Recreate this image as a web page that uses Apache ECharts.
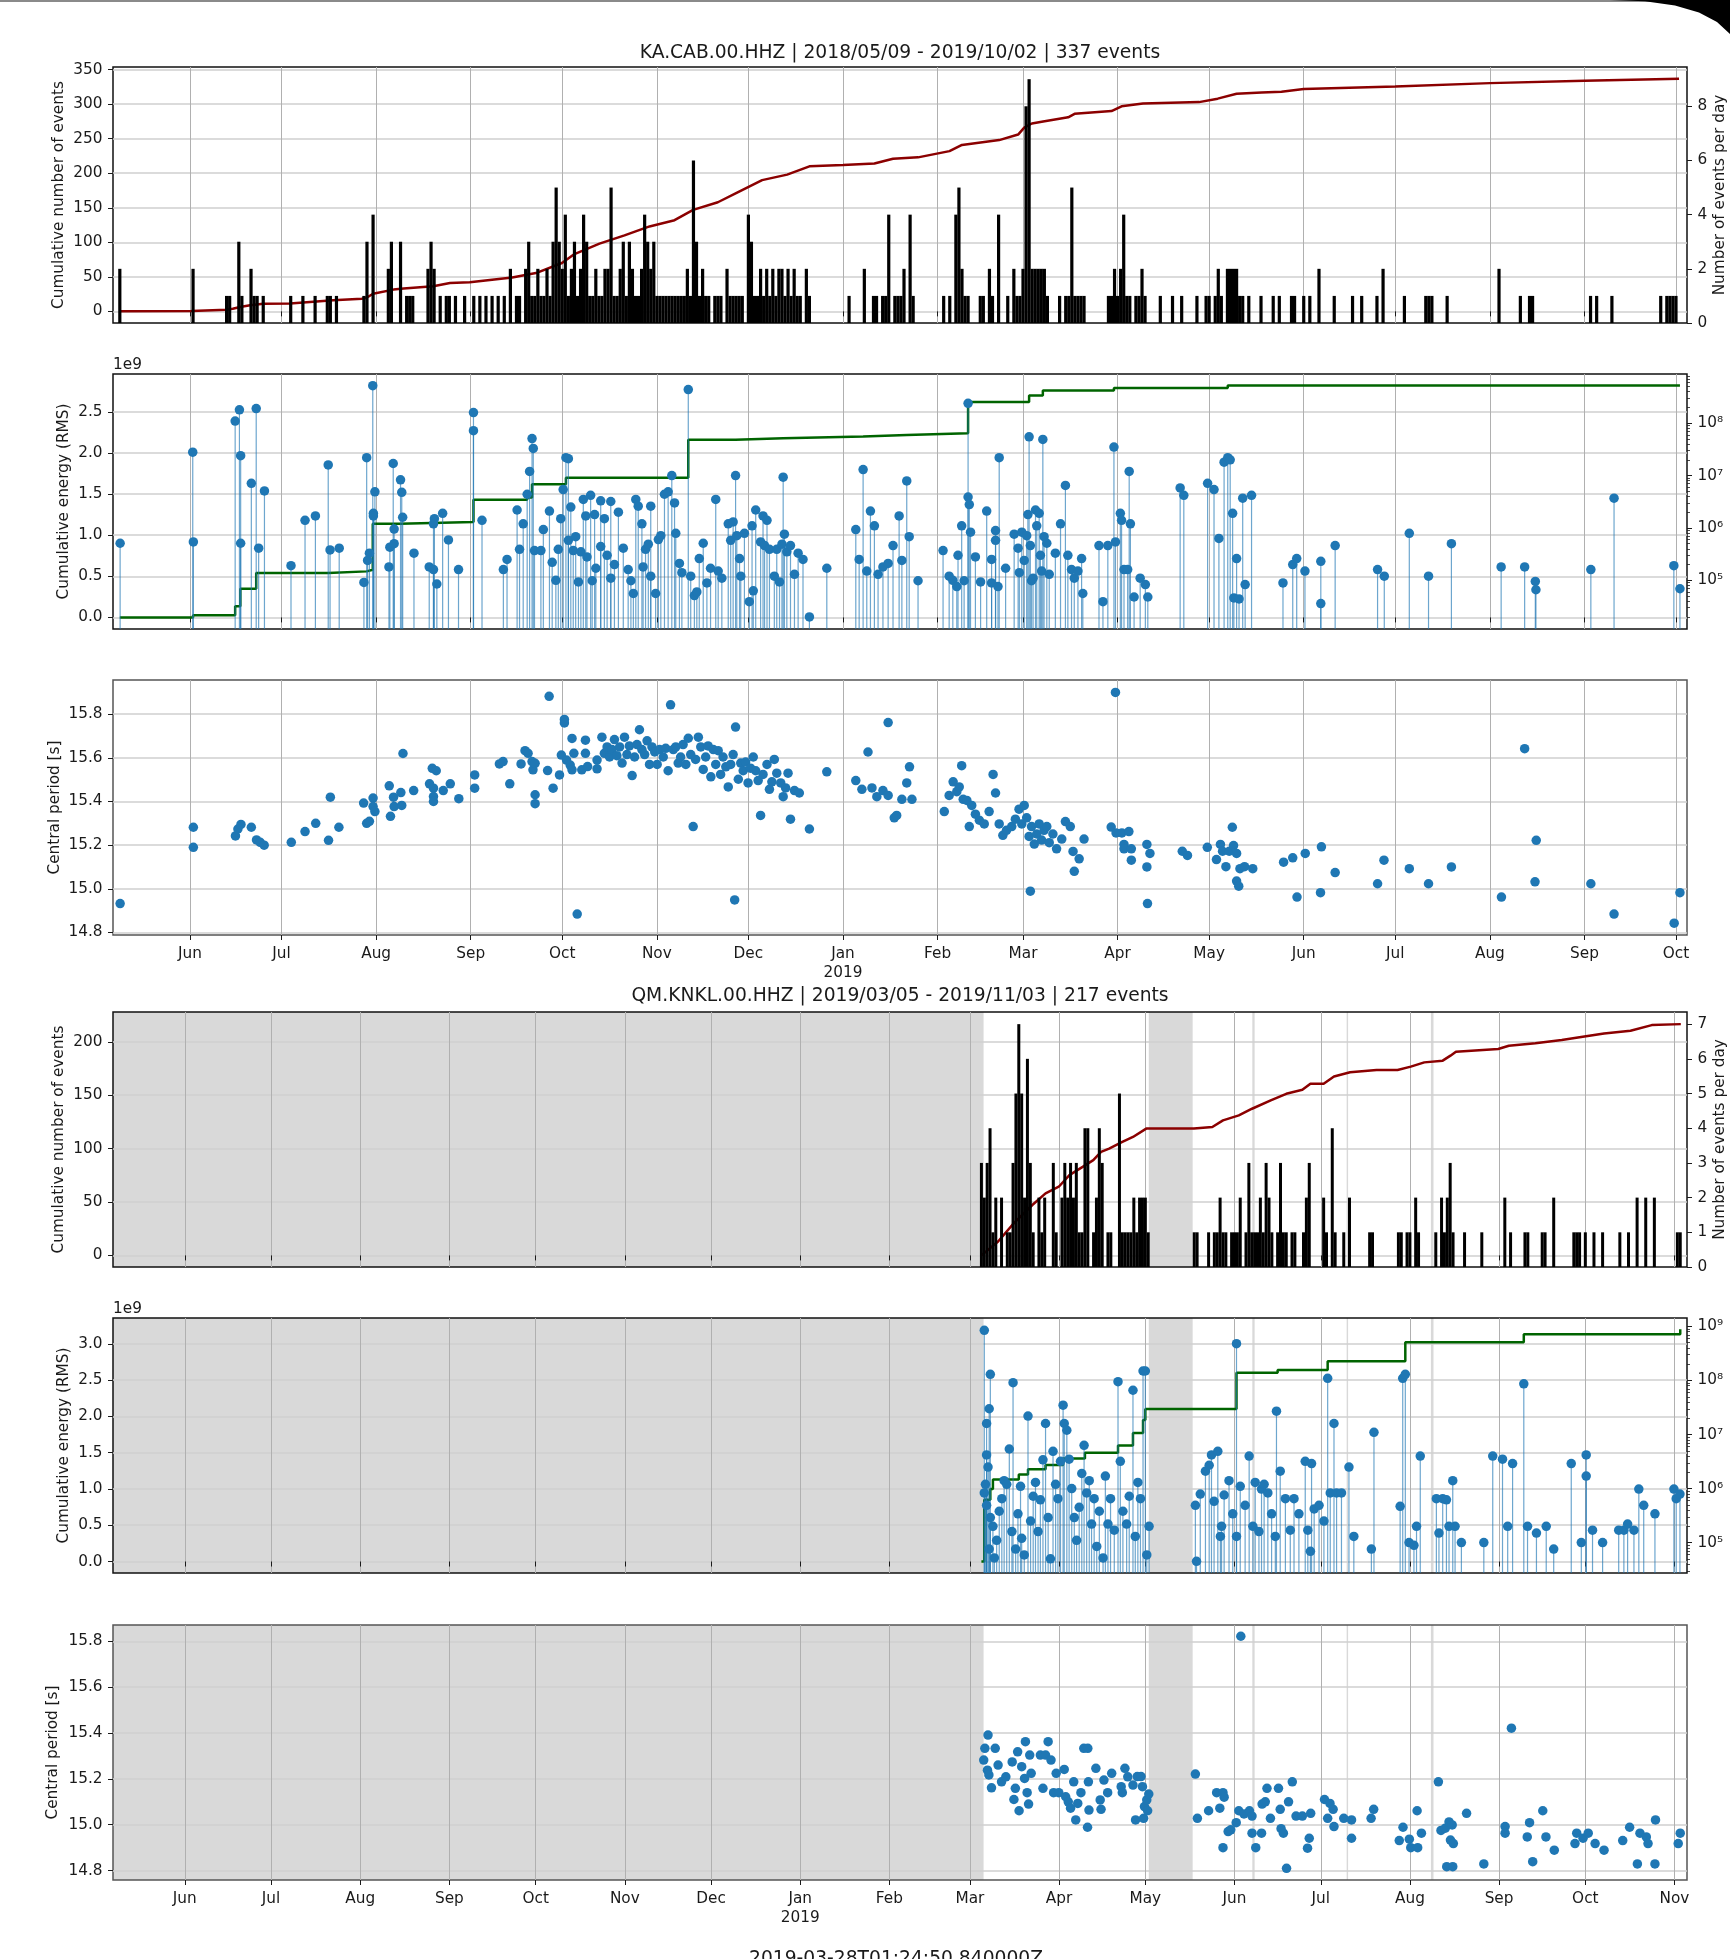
<!DOCTYPE html>
<html><head><meta charset="utf-8">
<script src="https://cdn.jsdelivr.net/npm/echarts@6/dist/echarts.min.js"></script>
<style>html,body{margin:0;padding:0;background:#fff}#c{width:1730px;height:1959px}</style>
</head><body><div id="c"></div>
<script>
// ---------------- DATA (x = days since 2018-06-01, UTC) ----------------
const DAY0 = '2018-06-01';
const TITLE_CAB = 'KA.CAB.00.HHZ | 2018/05/09 - 2019/10/02 | 337 events';
const TITLE_KNKL = 'QM.KNKL.00.HHZ | 2019/03/05 - 2019/11/03 | 217 events';
const FOOTER = '2019-03-28T01:24:50.840000Z';

const CAB_MONTHS = ['2018-06-01','2018-07-01','2018-08-01','2018-09-01','2018-10-01','2018-11-01','2018-12-01','2019-01-01','2019-02-01','2019-03-01','2019-04-01','2019-05-01','2019-06-01','2019-07-01','2019-08-01','2019-09-01','2019-10-01'];
const KNKL_MONTHS = CAB_MONTHS.concat(['2019-11-01']);
const COUNT_TICKS_CAB = [0,50,100,150,200,250,300,350];
const RATE_TICKS_CAB = [0,2,4,6,8];
const COUNT_TICKS_KNKL = [0,50,100,150,200];
const RATE_TICKS_KNKL = [0,1,2,3,4,5,6,7];
const ENERGY_TICKS_CAB = [0,0.5e9,1.0e9,1.5e9,2.0e9,2.5e9];
const ENERGY_TICKS_KNKL = [0,0.5e9,1.0e9,1.5e9,2.0e9,2.5e9,3.0e9];
const LOG_TICKS_CAB = [1e5,1e6,1e7,1e8];
const LOG_TICKS_KNKL = [1e5,1e6,1e7,1e8,1e9];
const LOG_MINOR = [2e4,3e4,4e4,5e4,6e4,7e4,8e4,9e4,2e5,3e5,4e5,5e5,6e5,7e5,8e5,9e5,2e6,3e6,4e6,5e6,6e6,7e6,8e6,9e6,2e7,3e7,4e7,5e7,6e7,7e7,8e7,9e7,2e8,3e8,4e8,5e8,6e8,7e8,8e8,9e8];
const PERIOD_TICKS = [14.8,15.0,15.2,15.4,15.6,15.8];

// KA.CAB: events per day [day, count]
const CAB_COUNTS = [[-23,2],[1,2],[12,1],[13,1],[16,3],[17,1],[20,2],[21,1],[22,1],[24,1],
[33,1],[37,1],[41,1],[45,1],[46,1],[48,1],[57,1],[58,3],[60,4],
[65,2],[66,3],[69,3],[71,1],[72,1],[73,1],[78,2],[79,3],[80,2],[82,1],[84,1],[85,1],[87,1],
[90,1],[93,1],[95,1],[97,1],[99,1],[101,1],[103,1],[105,2],[107,1],[108,1],[110,2],[111,3],[112,1],[113,1],[114,2],[115,1],[116,1],[117,2],[118,1],[119,3],[120,5],[121,3],
[122,2],[123,4],[124,1],[125,2],[126,3],[127,1],[128,2],[129,4],[130,3],[131,1],[132,1],[133,2],[134,1],[135,1],[136,2],[137,2],[138,5],[139,1],[140,1],[141,2],[142,3],[143,1],[144,3],[145,2],[146,1],[147,1],[148,2],[149,4],[150,3],[151,2],[152,3],
[153,1],[154,1],[155,1],[156,1],[157,1],[158,1],[159,1],[160,1],[161,1],[162,1],[163,2],[164,1],[165,6],[166,3],[167,1],[168,2],[169,1],[170,1],[172,1],[173,1],[174,1],[176,2],[177,1],[178,1],[179,1],[180,1],[181,1],
[183,4],[184,3],[185,1],[186,1],[187,2],[188,1],[189,2],[190,1],[191,2],[192,1],[193,2],[194,2],[195,1],[196,2],[197,1],[198,2],[199,1],[200,1],[202,2],[203,1],
[216,1],[221,2],[224,1],[225,1],[227,1],[228,1],[229,4],[231,1],[232,1],[233,1],[234,2],[236,4],[237,1],
[247,1],[249,1],[251,4],[252,5],[253,2],[254,1],[255,1],[259,1],[260,1],[262,2],[263,1],[265,4],[268,1],[270,2],[271,1],[272,1],
[273,2],[274,8],[275,9],[276,2],[277,2],[278,2],[279,2],[280,2],[281,1],[285,1],[287,1],[288,1],[289,5],[290,1],[291,1],[292,1],[293,1],[301,1],[302,1],[303,2],
[304,1],[305,2],[306,4],[307,1],[308,1],[310,1],[311,1],[312,2],[313,1],[318,1],[322,1],[325,1],[330,1],[333,1],
[334,1],[336,1],[337,2],[338,1],[340,2],[341,2],[342,2],[343,2],[344,1],[345,1],[347,1],[351,1],[355,1],
[357,1],[361,1],[362,1],[365,1],[367,1],[370,2],[375,1],[381,1],[384,1],[389,1],[391,2],[398,1],[405,1],[406,1],[407,1],[412,1],[429,2],[436,1],[439,1],[440,1],[459,1],[461,1],[466,1],[482,1],[484,1],[485,1],[486,1],[487,1]];

// KA.CAB: cumulative number of events [day, count]
const CAB_CUM = [[-23,0],[0.5,0.5],[1,2],[12,2.5],[14,3.9],[16.4,6.3],[19.7,8.7],[24,11.1],[32.8,11.5],[46.9,16],[56.3,18.4],[58,20],[60,25.6],[66.7,31.5],[70,33],[79.7,36.3],[85.2,41],[91.7,42],[105.6,49],[113.8,56],[121.9,70],[126,83],[134.2,98],[142.4,110],[150.6,123],[158.8,132],[164.9,147],[173,158],[179.3,172],[187.5,190],[195.7,198],[203,210],[214,212],[224.3,214],[230.4,221],[238.6,223],[248.9,232],[253,241],[265.2,248],[271.4,256],[273.4,266],[275.9,272],[279.6,275],[287.8,281],[289.9,286],[302,290],[305.3,297],[312.3,301],[330.7,303],[336.8,308],[343,315],[351.2,317],[357.7,318],[365,322],[395,325.6],[426,330.5],[457,334],[488,336.7]];

// KA.CAB: energy of each event [day, energy]
const CAB_ENERGY = [[-22.9,5.1e5],[0.9,2.8e7],[1.1,5.4e5],[14.8,1.1e8],[16.2,1.8e8],[16.6,2.4e7],[16.6,5.1e5],[20.1,7.1e6],[21.7,1.9e8],[22.5,4.1e5],[24.4,5.1e6],[33.1,1.9e5],[37.7,1.4e6],[41.1,1.7e6],[45.3,1.6e7],[45.9,3.8e5],[48.9,4.1e5],[57,9.1e4],[57.9,2.2e7],[58.2,2.4e5],[58.8,3.3e5],[59.9,5.2e8],[60.1,1.9e6],[60.1,1.7e6],[60.6,4.9e6],[65.2,1.8e5],[65.5,4.3e5],[66.9,5.0e5],[66.6,1.7e7],[66.9,9.5e5],[69,8.3e6],[69.4,4.8e6],[69.7,1.6e6],[73.4,3.3e5],[78.4,1.8e5],[79.8,1.6e5],[80.1,1.5e6],[79.8,1.2e6],[80.9,8.5e4],[82.8,1.9e6],[84.7,5.9e5],[88.0,1.6e5],[92.9,7.2e7],[92.9,1.6e8],[95.7,1.4e6],[102.7,1.6e5],[103.9,2.5e5],[107.2,2.2e6],[108.0,3.9e5],[109.2,1.2e6],[110.5,4.4e6],[111.3,1.2e7],[112.1,5.1e7],[112.5,3.3e7],[112.9,3.7e5],[115.0,3.7e5],[115.8,9.3e5],[117.8,2.1e6],[118.7,2.2e5],[119.9,1.0e5],[120.7,3.9e5],[121.5,1.5e6],[122.3,5.4e6],[123.2,2.2e7],[124.0,2.1e7],[124.0,5.8e5],[124.8,2.5e6],[125.6,3.7e5],[126.4,6.8e5],[127.3,9.3e4],[128.1,3.5e5],[128.9,3.5e6],[129.7,1.7e6],[130.1,2.8e5],[131.3,4.2e6],[131.8,9.8e4],[132.6,1.8e6],[133.0,1.7e5],[134.6,3.3e6],[134.6,4.4e5],[135.8,1.5e6],[136.7,3.0e5],[137.9,3.2e6],[137.9,1.1e5],[139.1,2.0e5],[140.4,2.0e6],[142.0,4.1e5],[143.6,1.6e5],[144.5,9.8e4],[145.3,5.6e4],[146.1,3.5e6],[146.9,2.6e6],[148.1,1.2e6],[148.5,1.8e5],[149.3,3.9e5],[150.2,4.9e5],[151.0,2.6e6],[151.0,1.2e5],[152.6,5.6e4],[153.5,6.0e5],[154.3,7.1e5],[155.5,4.4e6],[156.7,4.9e6],[157.9,1.0e7],[158.8,3.0e6],[159.2,7.9e5],[160.4,2.1e5],[161.2,1.4e5],[163.3,4.4e8],[164.1,1.2e5],[165.3,5.1e4],[166.1,6.0e4],[166.9,2.6e5],[168.2,5.1e5],[169.4,8.9e4],[170.6,1.7e5],[172.3,3.5e6],[173.1,1.5e5],[174.3,1.1e5],[176.4,1.2e6],[177.2,5.8e5],[178.0,1.3e6],[178.8,1.0e7],[179.2,7.1e5],[180.1,2.6e5],[180.5,1.2e5],[181.7,7.9e5],[183.3,3.9e4],[184.2,1.1e6],[184.6,6.3e4],[185.4,2.2e6],[187.0,5.4e5],[187.8,1.7e6],[188.3,4.6e5],[189.1,1.4e6],[189.9,3.9e5],[191.5,1.2e5],[192.3,3.9e5],[193.2,9.3e4],[194.0,4.9e5],[194.4,9.3e6],[194.8,7.6e5],[195.6,3.5e5],[196.8,4.6e5],[198.1,1.3e5],[199.3,3.3e5],[200.9,2.5e5],[203.0,2.0e4],[208.7,1.7e5],[218.2,9.3e5],[219.3,2.5e5],[220.6,1.3e7],[221.8,1.5e5],[223.0,2.1e6],[224.3,1.1e6],[225.5,1.3e5],[227.1,1.8e5],[228.8,2.1e5],[230.4,4.6e5],[232.4,1.7e6],[233.3,2.4e5],[234.9,7.9e6],[235.7,6.8e5],[238.6,9.8e4],[246.8,3.7e5],[248.8,1.2e5],[250.0,1.0e5],[251.3,7.6e4],[251.7,3.0e5],[252.9,1.1e6],[253.7,9.8e4],[255.0,3.9e6],[255.4,2.8e6],[255.0,2.4e8],[255.8,8.3e5],[257.4,2.8e5],[259.1,9.3e4],[261.1,2.1e6],[262.7,2.5e5],[265.2,2.2e7],[262.7,8.9e4],[264.0,8.9e5],[264.0,5.8e5],[264.8,7.6e4],[267.3,1.7e5],[270.1,7.6e5],[271.4,4.1e5],[271.8,1.4e5],[272.6,8.3e5],[273.4,2.4e5],[274.2,7.1e5],[274.6,1.8e6],[275.0,5.5e7],[275.4,4.6e5],[275.8,9.8e4],[276.3,1.1e5],[277.1,2.2e6],[277.5,1.1e6],[278.3,1.9e6],[278.7,3.0e5],[279.5,4.9e7],[279.1,1.5e5],[279.9,6.8e5],[280.8,5.1e5],[281.6,1.3e5],[283.6,3.3e5],[285.3,1.2e6],[286.9,6.5e6],[287.7,3.0e5],[288.9,1.6e5],[289.8,1.1e5],[291.0,1.5e5],[292.2,2.6e5],[292.6,5.6e4],[297.9,4.6e5],[299.2,3.9e4],[300.8,4.6e5],[302.8,3.5e7],[303.3,5.4e5],[304.9,1.9e6],[305.3,1.4e6],[306.1,1.6e5],[307.3,1.6e5],[307.8,1.2e7],[308.2,1.2e6],[309.4,4.8e4],[311.4,1.1e5],[313.1,8.3e4],[313.9,4.8e4],[324.5,5.8e6],[325.7,4.2e6],[333.5,7.1e6],[335.6,5.4e6],[337.2,6.3e5],[338.9,1.8e7],[340.1,2.2e7],[340.9,2.0e7],[341.7,1.9e6],[342.1,4.6e4],[343.0,2.6e5],[343.8,4.4e4],[345.0,3.7e6],[345.8,8.3e4],[347.9,4.2e6],[358.2,8.9e4],[361.4,2.0e5],[362.7,2.6e5],[365.4,1.5e5],[370.6,2.3e5],[370.6,3.6e4],[375.3,4.6e5],[389.2,1.6e5],[391.4,1.2e5],[399.6,7.9e5],[405.9,1.2e5],[413.4,5.0e5],[429.7,1.8e5],[437.4,1.8e5],[440.9,9.5e4],[441.1,6.6e4],[459.1,1.6e5],[466.7,3.7e6],[486.3,1.9e5],[488.3,6.9e4]];

// KA.CAB: cumulative energy [day, energy]
const CAB_CUM_ENERGY = [[-23,0],[1,2.5e7],[14.8,1.37e8],[16.5,3.5e8],[21.7,5.4e8],[45.3,5.6e8],[57.9,5.8e8],[59.9,1.14e9],[68.8,1.16e9],[92.9,1.43e9],[110.5,1.46e9],[112.1,1.62e9],[123.2,1.70e9],[163.3,2.16e9],[178.8,2.18e9],[194.4,2.2e9],[220.6,2.22e9],[234.9,2.24e9],[255.0,2.62e9],[275.0,2.70e9],[279.5,2.76e9],[302.8,2.79e9],[340.1,2.82e9],[488.3,2.826e9]];

// KA.CAB: central period [day, s]
const CAB_PERIOD = [[-22.9,14.932],[1.1,15.282],[1.1,15.19],[14.9,15.242],[15.7,15.274],[16.7,15.295],[20.1,15.282],[21.8,15.224],[23.0,15.213],[24.3,15.20],[33.2,15.213],[37.7,15.262],[41.2,15.30],[45.4,15.222],[46.0,15.42],[48.8,15.282],[56.9,15.393],[57.9,15.30],[58.8,15.309],[60.0,15.416],[60.0,15.377],[60.6,15.354],[65.3,15.472],[65.7,15.332],[66.7,15.42],[66.9,15.377],[69.1,15.441],[69.4,15.382],[69.8,15.62],[73.3,15.45],[78.5,15.481],[79.4,15.552],[80.7,15.541],[79.8,15.461],[79.8,15.423],[79.8,15.40],[83.0,15.45],[85.3,15.481],[88.1,15.413],[93.3,15.522],[93.3,15.461],[101.4,15.572],[102.6,15.583],[104.8,15.481],[108.5,15.572],[109.8,15.633],[110.8,15.621],[112.1,15.583],[112.4,15.545],[113.1,15.575],[113.1,15.431],[113.1,15.39],[117.2,15.542],[117.7,15.882],[119.0,15.461],[121.1,15.522],[121.7,15.613],[122.7,15.776],[122.7,15.76],[123.4,15.59],[124.6,15.567],[125.2,15.689],[125.2,15.545],[125.8,15.621],[126.9,14.884],[128.4,15.545],[129.6,15.681],[129.6,15.621],[130.3,15.56],[133.4,15.59],[133.4,15.55],
[135.0,15.695],[135.8,15.621],[136.7,15.650],[137.5,15.604],[138.3,15.638],[139.1,15.684],[139.9,15.610],[140.8,15.650],[141.6,15.576],[142.4,15.695],[143.2,15.615],[144.0,15.655],[144.9,15.519],[145.7,15.604],[146.5,15.661],[147.3,15.729],[148.1,15.638],[149.0,15.615],[149.8,15.678],[150.6,15.570],[151.4,15.650],[152.3,15.627],[153.1,15.570],[153.9,15.638],[155.1,15.604],[155.9,15.644],[156.7,15.541],[157.5,15.843],[158.4,15.638],[159.2,15.650],[160.0,15.576],[160.8,15.604],[161.6,15.661],[162.5,15.570],[163.3,15.690],[164.1,15.615],[164.9,15.285],[165.7,15.593],[166.6,15.695],[167.4,15.650],[168.2,15.547],[169.0,15.604],[169.8,15.655],[170.7,15.513],[171.5,15.638],[172.3,15.570],[173.1,15.633],[173.9,15.524],[174.7,15.604],[175.6,15.559],[176.4,15.467],[177.2,15.570],[178.0,15.615],[178.5,14.949],[178.8,15.741],[179.7,15.502],[180.5,15.576],[181.3,15.541],[182.1,15.581],[182.9,15.485],[183.7,15.553],[184.6,15.604],[185.4,15.541],[186.2,15.496],[187.0,15.336],[187.8,15.524],[189.1,15.570],[189.9,15.456],[190.7,15.490],[191.5,15.593],[192.3,15.530],[193.6,15.485],[194.4,15.422],[195.2,15.462],[196.0,15.530],[196.8,15.319],[198.1,15.450],[199.7,15.439],[203.0,15.274],[208.7,15.536],[218.2,15.496],[220.2,15.456],[222.2,15.627],[223.5,15.462],[225.1,15.422],[227.1,15.450],[228.8,15.428],[228.8,15.762],[230.8,15.325],[231.6,15.336],[233.3,15.410],[234.9,15.485],[235.8,15.559],[236.6,15.410],[247.2,15.354],[248.8,15.428],[250.1,15.490],[251.3,15.445],[252.1,15.467],[252.9,15.564],[253.4,15.410],[254.6,15.405],[255.4,15.285],[256.2,15.382],[257.4,15.342],[258.7,15.314],[260.3,15.297],[261.9,15.354],[263.2,15.524],[264.0,15.439],[265.2,15.297],[266.4,15.245],[267.6,15.268],[269.3,15.285],[270.5,15.319],[271.7,15.365],[272.6,15.297],[273.4,15.382],[274.2,15.325],[275.0,15.240],[275.4,14.989],[275.8,15.285],[276.7,15.205],[277.5,15.251],[278.3,15.297],[279.1,15.223],[279.9,15.268],[280.8,15.285],[281.6,15.211],[282.8,15.251],[284.0,15.183],[285.7,15.228],[286.9,15.308],[288.5,15.285],[289.4,15.171],[289.8,15.080],[291.4,15.137],[293.0,15.228],
[303.3,15.9],[301.9,15.283],[303.5,15.256],[305.4,15.256],[307.7,15.262],[306.1,15.203],[306.1,15.183],[308.5,15.183],[308.5,15.131],[313.6,15.203],[314.6,15.162],[313.6,15.10],[313.8,14.932],[325.2,15.172],[326.9,15.153],[333.4,15.19],[336.4,15.134],[337.7,15.203],[338.4,15.172],[339.5,15.101],[340.6,15.172],[341.6,15.282],[342.0,15.198],[343.0,15.162],[343.0,15.035],[343.7,15.012],[344.1,15.092],[345.6,15.101],[348.3,15.092],[358.4,15.122],[361.4,15.142],[362.8,14.962],[365.5,15.162],[370.5,14.982],[370.8,15.192],[375.3,15.074],[389.2,15.023],[391.3,15.131],[399.6,15.092],[405.9,15.023],[413.4,15.10],[429.8,14.962],[437.4,15.642],[441.2,15.222],[440.8,15.032],[459.1,15.023],[466.7,14.884],[486.4,14.842],[488.3,14.982]];

// QM.KNKL: events per day [day, count]
const KNKL_COUNTS = [[277,3],[278,2],[279,3],[280,4],[281,1],[282,2],[284,2],[286,1],[287,1],[288,3],[289,5],[290,7],[291,5],[292,2],[293,6],[294,3],[295,1],[297,2],[298,1],[299,2],[302,3],[303,1],[305,2],[306,3],[307,2],[308,3],[309,2],[310,3],[311,1],[312,1],[313,4],[314,4],[316,1],[317,2],[318,4],[319,3],[321,1],[322,1],[325,5],[326,1],[327,1],[328,1],[329,1],[330,2],[331,1],[332,2],[333,2],[334,2],[335,1],
[351,1],[352,1],[356,1],[358,1],[359,1],[360,2],[361,1],[362,1],[364,1],[365,1],[366,1],[367,2],[369,1],[370,3],[371,1],[372,1],[373,1],[374,2],[375,1],[376,3],[377,2],[378,1],[380,1],[381,3],[382,1],[383,1],[385,1],[386,1],[389,1],[390,2],[391,3],[396,2],[397,1],[399,4],[400,1],[403,1],[405,2],[412,1],[413,1],[422,1],[423,1],[425,1],[426,1],[428,2],[429,1],[435,1],[437,2],[438,1],[439,2],[440,3],[441,1],[445,1],[451,1],[459,2],[461,1],[466,1],[467,1],[472,1],[473,1],[476,2],[483,1],[484,1],[485,1],[487,1],[490,1],[493,1],[499,1],[502,1],[505,2],[508,2],[511,2],[519,1],[520,1]];

// QM.KNKL: cumulative number of events [day, count]
const KNKL_CUM = [[277,0],[282.8,13],[288.3,30.2],[294.7,47.2],[299.3,58.1],[303.9,64.3],[307.6,75.2],[312.2,82.9],[315.9,89.2],[318.6,96.9],[321.4,100],[326,106.2],[329.7,110.9],[334.3,118.7],[350.9,118.7],[357.3,120.2],[361,126.4],[366.5,131.1],[371.1,137.3],[377.6,145.1],[383,151.3],[388.6,155],[391.4,160.6],[396,160.6],[399.6,167.4],[405.2,171.4],[414.4,173.6],[421.7,173.6],[426.3,176.7],[431,180.7],[437.4,182.3],[440.1,187],[442,190.7],[456.7,193.2],[460.4,196.3],[469.6,198.5],[478.8,201.6],[486.1,204.7],[493.5,207.8],[502.7,210.3],[510.1,215.6],[520.2,216.5]];

// QM.KNKL: energy of each event [day, energy]
const KNKL_ENERGY = [[278.0,8.5e8],[279.7,3.0e7],[280.1,1.3e8],[278.8,1.6e7],[278.8,4.2e6],[279.3,2.5e6],[278.4,1.2e6],[278.0,8.3e5],[278.8,4.9e5],[280.1,2.9e5],[281.0,2.0e5],[279.7,7.6e4],[281.5,5.2e4],[282.3,1.1e5],[283.2,3.8e5],[284.1,6.5e5],[284.9,1.4e6],[285.8,1.2e6],[286.7,5.4e6],[287.6,1.6e5],[288.0,9.1e7],[288.9,7.6e4],[289.7,3.4e5],[290.6,1.1e6],[291.0,1.2e5],[291.9,5.9e4],[293.2,2.2e7],[294.1,2.5e5],[295.0,7.2e5],[295.8,1.3e6],[296.7,1.6e5],[297.5,6.2e5],[298.4,3.4e6],[299.3,1.6e7],[300.2,2.9e5],[301.0,5.0e4],[301.9,4.9e6],[302.8,1.2e6],[303.6,6.5e5],[304.5,3.2e6],[305.4,3.5e7],[305.8,1.6e7],[306.7,1.2e7],[307.5,3.5e6],[308.4,1.0e6],[309.3,2.9e5],[310.1,1.1e5],[311.0,4.5e5],[311.9,1.9e6],[312.7,6.3e6],[313.6,8.3e5],[314.5,1.4e6],[315.3,2.2e5],[316.2,6.5e5],[317.1,8.5e4],[318.0,3.8e5],[319.3,5.2e4],[320.1,1.7e6],[321.0,2.2e5],[321.9,6.5e5],[323.2,1.7e5],[324.5,9.5e7],[325.3,3.2e6],[326.2,3.8e5],[327.5,2.2e5],[328.4,7.2e5],[329.7,6.6e7],[330.5,1.3e5],[331.4,1.3e6],[332.3,6.5e5],[333.2,1.5e8],[334.0,1.5e8],[334.5,5.9e4],[335.3,2.0e5],
[351.4,4.9e5],[351.8,4.5e4],[353.1,7.9e5],[354.9,2.1e6],[356.2,2.7e6],[357.0,4.2e6],[357.9,5.8e5],[359.2,4.9e6],[360.1,1.3e5],[360.5,2.0e5],[361.4,7.6e5],[363.1,1.4e6],[364.4,3.4e5],[365.7,4.8e8],[365.7,1.3e5],[367.0,1.1e6],[368.7,4.9e5],[370.1,4.0e6],[371.4,2.0e5],[372.2,1.3e6],[373.5,1.6e5],[374.4,9.8e5],[375.3,1.2e6],[376.6,8.3e5],[377.9,3.4e5],[379.2,1.3e5],[379.6,2.7e7],[380.9,2.1e6],[382.7,6.5e5],[384.4,1.7e5],[385.7,6.5e5],[387.4,3.4e5],[389.6,3.2e6],[390.5,1.7e5],[391.4,6.9e4],[391.8,2.9e6],[392.7,4.2e5],[394.4,4.9e5],[396.1,2.5e5],[397.4,1.1e8],[398.3,8.3e5],[399.6,1.6e7],[400.5,8.3e5],[402.2,8.3e5],[404.8,2.5e6],[406.5,1.3e5],[412.6,7.6e4],[413.5,1.1e7],[422.6,4.7e5],[423.5,1.1e8],[424.4,1.3e8],[425.7,1.0e5],[427.4,8.9e4],[428.3,2.0e5],[429.6,4.0e6],[435.2,6.5e5],[436.1,1.5e5],[437.4,6.5e5],[438.7,6.2e5],[439.6,2.0e5],[440.9,1.4e6],[441.7,2.0e5],[443.9,1.0e5],[451.7,1.0e5],[454.8,4.0e6],[458.2,3.5e6],[460.0,2.0e5],[461.7,2.9e6],[465.6,8.7e7],[466.9,2.0e5],[470.0,1.5e5],[473.4,2.0e5],[476.0,7.6e4],[482.1,2.9e6],[485.6,1.0e5],[487.3,1.7e6],[487.3,4.2e6],[489.5,1.7e5],[493.0,1.0e5],[498.6,1.7e5],[500.4,1.7e5],[501.7,2.2e5],[503.9,1.7e5],[505.6,9.8e5],[507.3,4.9e5],[511.2,3.4e5],[517.8,9.8e5],[518.6,6.5e5],[519.9,7.9e5]];

// QM.KNKL: cumulative energy [day, energy]
const KNKL_CUM_ENERGY = [[277,0],[278,0.85e9],[280.1,1.0e9],[281,1.13e9],[290,1.2e9],[293.2,1.27e9],[299.3,1.33e9],[305.4,1.42e9],[313,1.5e9],[324.5,1.6e9],[329.7,1.77e9],[333.2,1.95e9],[334,2.1e9],[365.7,2.6e9],[380,2.64e9],[397.4,2.76e9],[424.4,3.02e9],[465.6,3.13e9],[520,3.2e9]];

// QM.KNKL: central period [day, s]
const KNKL_PERIOD = [[279.3,15.391],[278.2,15.333],[277.8,15.282],[279.1,15.238],[279.6,15.217],[280.5,15.161],[281.8,15.333],[282.8,15.26],[284.0,15.187],[285.5,15.209],[287.7,15.274],[288.3,15.11],[288.8,15.159],[289.6,15.318],[290.1,15.061],[291.0,15.253],[292.0,15.202],[292.3,15.362],[292.9,15.14],[293.4,15.09],[293.8,15.304],[294.3,15.224],[297.5,15.304],[298.4,15.159],[299.3,15.304],[300.2,15.362],[301.2,15.282],[302.1,15.14],[303.0,15.224],[303.9,15.14],[305.8,15.241],[306.3,15.122],[307.2,15.10],[308.0,15.072],[309.1,15.187],[309.8,15.021],[310.5,15.093],[311.6,15.14],[312.6,15.333],[314.0,15.333],[314.2,15.187],[314.4,15.064],[313.9,14.989],[316.8,15.246],[318.3,15.108],[318.6,15.067],[319.6,15.195],[320.9,15.14],[322.3,15.224],[325.6,15.166],[326.0,15.14],[326.9,15.246],[327.9,15.209],[329.7,15.173],[330.6,15.021],[331.2,15.21],[332.5,15.21],[333.0,15.166],[333.4,15.028],[333.7,15.079],[334.5,15.108],[335.2,15.134],[334.8,15.061],
[351.4,15.221],[352.1,15.028],[356.0,15.061],[358.8,15.14],[359.9,15.072],[361.0,15.14],[361.4,15.12],[361.0,14.90],[362.8,14.97],[363.7,14.978],[365.6,15.009],[366.5,15.061],[367.2,15.822],[368.3,15.047],[370.2,15.061],[371.1,15.038],[371.1,14.963],[372.4,14.90],[374.4,14.963],[374.6,15.09],[375.7,15.10],[376.3,15.159],[377.5,15.028],[380.3,15.159],[380.9,15.067],[381.2,14.983],[382.0,14.963],[383.1,14.81],[383.8,15.10],[385.1,15.187],[386.4,15.038],[388.6,15.038],[390.4,14.898],[391.0,14.941],[391.5,15.05],[396.3,15.11],[397.4,15.028],[398.2,15.093],[399.3,15.067],[399.6,14.992],[403.0,15.028],[405.7,15.021],[405.7,14.941],[412.5,15.028],[413.4,15.067],[422.3,14.931],[423.6,14.989],[425.8,14.937],[426.3,14.90],[428.5,15.061],[428.7,14.90],[430.0,14.963],[435.9,15.187],[436.8,14.975],[438.3,14.985],[438.8,14.817],[439.6,15.012],[440.1,14.933],[440.9,14.817],[441.1,14.918],[440.7,14.999],[445.7,15.05],[451.7,14.829],[459.1,14.992],[459.1,14.963],[461.3,15.421],[466.8,14.947],[467.6,15.009],[468.7,14.839],[472.2,15.061],[473.3,14.947],[476.2,14.889],[483.4,14.918],[484.0,14.963],[486.2,14.941],[488.0,14.963],[490.4,14.918],[493.5,14.889],[500.0,14.931],[502.4,14.989],[505.1,14.829],[506.0,14.963],[508.2,14.947],[508.8,14.918],[511.4,15.021],[511.2,14.829],[519.3,14.918],[520.0,14.963]];

// QM.KNKL: periods without data [startDay, endDay]
const KNKL_GAPS = [[-30,277.75],[335.2,350.45],[371.2,372.0],[404.0,404.5],[433.3,434.2]];

// ---------------- CHART ----------------
const DAY_MS = 86400000;
const T0 = Date.parse(DAY0 + 'T00:00:00Z');
const t = d => T0 + d * DAY_MS;
const FONT = "'DejaVu Sans', 'Liberation Sans', sans-serif";
const FS = 15.3;
const TXT = '#1a1a1a';
const MONTHS = ['Jan','Feb','Mar','Apr','May','Jun','Jul','Aug','Sep','Oct','Nov','Dec'];
const SUP = {4:'\u2074',5:'\u2075',6:'\u2076',7:'\u2077',8:'\u2078',9:'\u2079'};
const monthLabel = v => { const d = new Date(v); const m = MONTHS[d.getUTCMonth()]; return d.getUTCMonth() === 0 ? m + '\n' + d.getUTCFullYear() : m; };
const fmtInt = v => String(Math.round(v));
const fmtE9 = v => (v / 1e9).toFixed(1);
const fmt1 = v => Number(v).toFixed(1);
const fmtPow = v => '10' + (SUP[Math.round(Math.log10(v))] || '');
const ts = arr => arr.map(s => Date.parse(s + 'T00:00:00Z'));

const X_CAB = [-25.235, 490.61];
const X_KNKL = [-24.97, 522.35];

function mkGrid(top, height, border) {
  return {left: 113, width: 1574, top, height, show: true, borderColor: border, borderWidth: 1.5, backgroundColor: 'transparent',
          containLabel: false, outerBoundsMode: 'none'};
}
function mkX(gi, range, ticks, showLabel) {
  return {type: 'value', gridIndex: gi, min: t(range[0]), max: t(range[1]), scale: true,
    axisLine: {show: false},
    axisTick: {show: true, length: 5, customValues: ticks, lineStyle: {color: TXT, width: 1}},
    axisLabel: {show: showLabel, customValues: ticks, formatter: monthLabel, color: TXT, fontSize: FS, fontFamily: FONT, margin: 10, lineHeight: 19},
    splitLine: {show: true, lineStyle: {color: '#b0b0b0', width: 1}}};
}
function mkY(gi, pos, type, min, max, ticks, fmt, name, nameGap, split) {
  const a = {type, gridIndex: gi, position: pos, min, max,
    axisLine: {show: false},
    axisTick: {show: true, length: 5, customValues: ticks, lineStyle: {color: TXT, width: 1}},
    axisLabel: {show: true, customValues: ticks, formatter: fmt, color: TXT, fontSize: FS, fontFamily: FONT, margin: 10.5},
    splitLine: {show: split, lineStyle: {color: '#cfcfcf', width: 1.6}}};
  if (type === 'log') a.logBase = 10;
  if (name) { Object.assign(a, {name, nameLocation: 'middle', nameGap, nameRotate: 90, nameMoveOverlap: false,
                                nameTextStyle: {fontSize: FS, color: TXT, fontFamily: FONT}}); }
  return a;
}
function mkMinor(gi, min, max) {
  return {type: 'log', logBase: 10, gridIndex: gi, position: 'right', min, max,
    axisLine: {show: false}, axisLabel: {show: false}, splitLine: {show: false},
    axisTick: {show: true, length: 3, customValues: LOG_MINOR, lineStyle: {color: TXT, width: 0.8}}};
}

const grid = [mkGrid(67, 256, '#111'), mkGrid(374, 255, '#111'), mkGrid(680, 255, '#555'),
              mkGrid(1012, 255, '#111'), mkGrid(1318, 255, '#111'), mkGrid(1625, 255, '#555')];
const cabTicks = ts(CAB_MONTHS), knklTicks = ts(KNKL_MONTHS);
const xAxis = [mkX(0, X_CAB, cabTicks, false), mkX(1, X_CAB, cabTicks, false), mkX(2, X_CAB, cabTicks, true),
               mkX(3, X_KNKL, knklTicks, false), mkX(4, X_KNKL, knklTicks, false), mkX(5, X_KNKL, knklTicks, true)];
const yAxis = [
  mkY(0, 'left', 'value', -16.85, 353.85, COUNT_TICKS_CAB, fmtInt, 'Cumulative number of events', 46, true),   //0
  mkY(0, 'right', 'value', 0, 9.45, RATE_TICKS_CAB, fmtInt, 'Number of events per day', 26, false),           //1
  mkY(1, 'left', 'value', -0.141e9, 2.961e9, ENERGY_TICKS_CAB, fmtE9, 'Cumulative energy (RMS)', 41, true),   //2
  mkY(1, 'right', 'log', Math.pow(10, 4.07), Math.pow(10, 8.94), LOG_TICKS_CAB, fmtPow, null, 0, false),      //3
  mkMinor(1, Math.pow(10, 4.07), Math.pow(10, 8.94)),                                                          //4
  mkY(2, 'left', 'value', 14.788, 15.957, PERIOD_TICKS, fmt1, 'Central period [s]', 50.5, true),              //5
  mkY(3, 'left', 'value', -10.85, 227.85, COUNT_TICKS_KNKL, fmtInt, 'Cumulative number of events', 46, true), //6
  mkY(3, 'right', 'value', 0, 7.35, RATE_TICKS_KNKL, fmtInt, 'Number of events per day', 26, false),          //7
  mkY(4, 'left', 'value', -0.158e9, 3.355e9, ENERGY_TICKS_KNKL, fmtE9, 'Cumulative energy (RMS)', 41, true),  //8
  mkY(4, 'right', 'log', Math.pow(10, 4.437), Math.pow(10, 9.157), LOG_TICKS_KNKL, fmtPow, null, 0, false),   //9
  mkMinor(4, Math.pow(10, 4.437), Math.pow(10, 9.157)),                                                        //10
  mkY(5, 'left', 'value', 14.759, 15.871, PERIOD_TICKS, fmt1, 'Central period [s]', 52, true)                 //11
];

const toXY = arr => arr.map(p => [t(p[0]), p[1]]);
function cumLine(xi, yi, data, color, step) {
  return {type: 'line', xAxisIndex: xi, yAxisIndex: yi, data: toXY(data), step: step || false, symbol: 'none', showSymbol: false,
          lineStyle: {color, width: 2.5}, z: 2, silent: true};
}
// daily-count bars drawn through the axes' scales
function bars(xi, yi, data, w) {
  return {type: 'custom', xAxisIndex: xi, yAxisIndex: yi, data: toXY(data), encode: {x: 0, y: 1}, z: 3, silent: true, clip: false,
    renderItem(params, api) {
      const top = api.coord([api.value(0), api.value(1)]);
      const base = api.coord([api.value(0), 0]);
      return {type: 'rect', shape: {x: top[0] - w / 2, y: top[1], width: w, height: base[1] - top[1]}, style: {fill: '#000'}};
    }};
}
function stems(xi, yi, data) {
  return {type: 'custom', xAxisIndex: xi, yAxisIndex: yi, data: toXY(data), encode: {x: 0, y: 1}, z: 3, silent: true, clip: false,
    renderItem(params, api) {
      const p = api.coord([api.value(0), api.value(1)]);
      const cs = params.coordSys;
      return {type: 'line', shape: {x1: p[0], y1: p[1], x2: p[0], y2: cs.y + cs.height}, style: {stroke: '#1f77b4', lineWidth: 1.2, opacity: 0.65}};
    }};
}
function dots(xi, yi, data) {
  return {type: 'scatter', xAxisIndex: xi, yAxisIndex: yi, data: toXY(data), symbol: 'circle', symbolSize: 9.5,
          itemStyle: {color: '#1f77b4', opacity: 1}, z: 4, silent: true};
}
function shade(xi, yi, yRef) {
  return {type: 'custom', xAxisIndex: xi, yAxisIndex: yi, data: KNKL_GAPS.map(g => [t(g[0]), yRef, t(g[1])]),
    encode: {x: [0, 2], y: 1}, z: -1, silent: true, clip: false,
    renderItem(params, api) {
      const cs = params.coordSys;
      let x1 = api.coord([api.value(0), api.value(1)])[0];
      let x2 = api.coord([api.value(2), api.value(1)])[0];
      x1 = Math.max(x1, cs.x); x2 = Math.min(x2, cs.x + cs.width);
      return {type: 'rect', shape: {x: x1, y: cs.y, width: Math.max(0, x2 - x1), height: cs.height}, style: {fill: '#d9d9d9'}};
    }};
}

const series = [
  cumLine(0, 0, CAB_CUM, '#8b0000'),
  bars(0, 1, CAB_COUNTS, 3.2),
  cumLine(1, 2, CAB_CUM_ENERGY, '#006400', 'end'),
  stems(1, 3, CAB_ENERGY),
  dots(1, 3, CAB_ENERGY),
  dots(2, 5, CAB_PERIOD),
  shade(3, 6, 0),
  cumLine(3, 6, KNKL_CUM, '#8b0000'),
  bars(3, 7, KNKL_COUNTS, 3.0),
  shade(4, 8, 0),
  cumLine(4, 8, KNKL_CUM_ENERGY, '#006400', 'end'),
  stems(4, 9, KNKL_ENERGY),
  dots(4, 9, KNKL_ENERGY),
  shade(5, 11, 15),
  dots(5, 11, KNKL_PERIOD)
];

const graphic = [
  {type: 'rect', shape: {x: 0, y: 0, width: 1730, height: 2}, style: {fill: '#8a8a8a'}, silent: true},
  {type: 'polygon', shape: {points: [[1610,0],[1645,1.3],[1675,5.5],[1699,12.5],[1717,22],[1730,34],[1730,0]]}, style: {fill: '#000'}, silent: true},
  {type: 'text', x: 900, y: 53, style: {text: TITLE_CAB, fontSize: 18.7, fontFamily: FONT, fill: TXT, align: 'center', verticalAlign: 'middle'}},
  {type: 'text', x: 900, y: 996, style: {text: TITLE_KNKL, fontSize: 18.7, fontFamily: FONT, fill: TXT, align: 'center', verticalAlign: 'middle'}},
  {type: 'text', x: 113, y: 365, style: {text: '1e9', fontSize: FS, fontFamily: FONT, fill: TXT, align: 'left', verticalAlign: 'middle'}},
  {type: 'text', x: 113, y: 1309, style: {text: '1e9', fontSize: FS, fontFamily: FONT, fill: TXT, align: 'left', verticalAlign: 'middle'}},
  {type: 'text', x: 896, y: 1950, style: {text: FOOTER, fontSize: 18.7, fontFamily: FONT, fill: TXT, align: 'center', verticalAlign: 'top'}}
];

const chart = echarts.init(document.getElementById('c'), null, {renderer: 'canvas', width: 1730, height: 1959});
chart.setOption({
  animation: false,
  useUTC: true,
  backgroundColor: '#ffffff',
  textStyle: {fontFamily: FONT},
  grid, xAxis, yAxis, series, graphic
});
</script></body></html>
